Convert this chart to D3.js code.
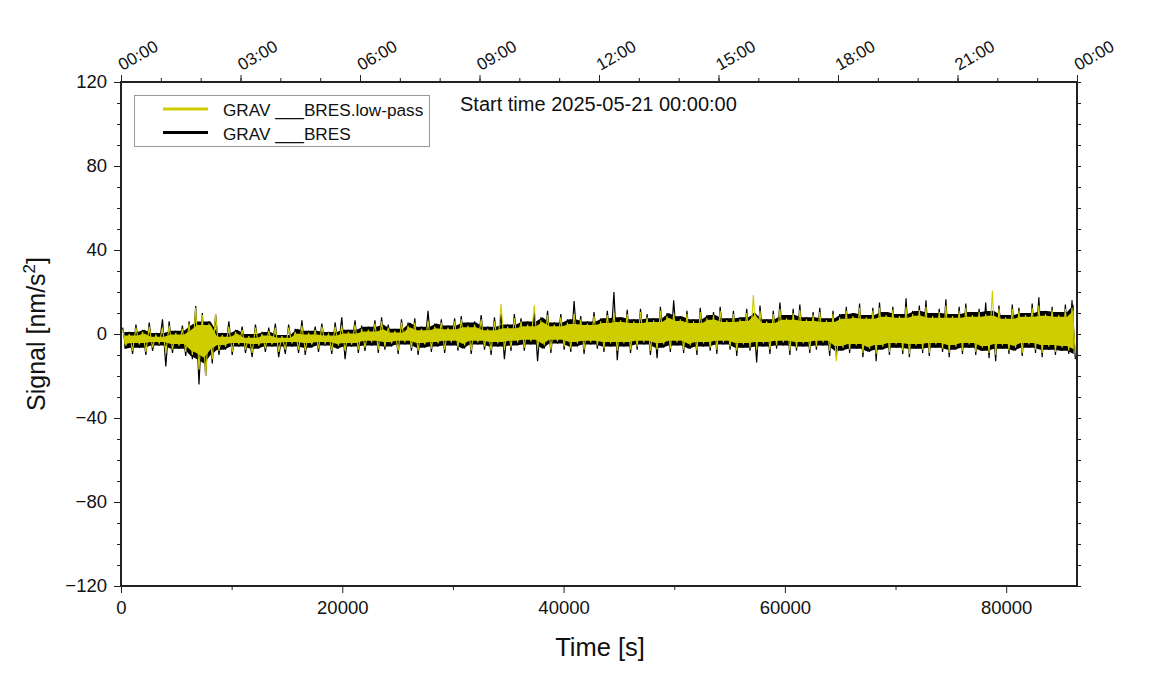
<!DOCTYPE html>
<html>
<head>
<meta charset="utf-8">
<script src="https://cdn.jsdelivr.net/npm/d3@7"></script>
<style>
  body { margin: 0; background: #fff; }
  text { font-family: "Liberation Sans", Arial, Helvetica, sans-serif; fill: #111; }
</style>
</head>
<body>
<div id="display-container"></div>
<script>
// one value pair per 600 s bin (max / min of the trace inside the bin), nm/s^2
var binSeconds = 600;
var rawHi = [3, 1, 4.5, 2, 5.5, 0.5, 7, 6, 1.5, 4,
  6, 13.3, 10, 6, 9.5,
  0.5, 6, 2, 3.5, 0, 4.5, 1, 3, 5, -0.5,
  4.5, 2.5, 6.5, 1.5, 3.5, 5, 1, 5.5, 8, 2, 6.5, 4,
  3.5, 6.5, 8, 4.5, 2.5, 7, 5.5, 7.5, 3.5, 11,
  5, 7, 4, 7.5, 8.5, 5.5, 6, 9, 3.5, 8, 9.5, 4.5, 9.5,
  7.5, 6, 10, 8, 11, 5.5, 9.5, 7, 15.7, 8.5, 6, 10.5, 7.5, 11,
  20, 8, 11.5, 7, 12, 9.5, 7.5, 13, 10, 16, 8.5, 11, 7, 12.5, 9, 10.5, 13, 7.5,
  11, 8, 12, 10, 13.5, 7, 11, 15, 9, 12, 14, 8, 10.5, 12.5, 7.5, 11, 9.5,
  13, 10, 14.5, 9, 12.5, 15, 10.5, 13, 9.5, 17, 11, 13.5, 16, 10, 12, 16.5, 9.5,
  13, 14.5, 10.5, 12, 15, 11, 13.5, 9, 14, 12.5, 10, 14.5, 17.5, 11, 13, 10.5, 14, 16];
var rawLo = [-7, -9.5, -6.5, -10, -8, -5.5, -15.5, -9, -7, -10.5,
  -12, -24, -20, -14, -10,
  -7.5, -10, -6, -9, -11, -7, -8.5, -6, -11, -9.5,
  -6, -9, -10, -6.5, -8.5, -5.5, -9.5, -7, -12, -6, -9, -8,
  -5.5, -9, -7.5, -6, -9.5, -5, -8, -10, -6.5, -8.5,
  -6, -9, -5.5, -8, -7, -9.5, -5, -7.5, -10, -6, -12, -8, -5.5,
  -8, -5, -13, -7, -9, -4.5, -7.5, -8.5, -6, -9.5, -5, -7, -8.5, -6,
  -12.5, -6, -9, -7.5, -5, -10, -11.5, -6.5, -8.5, -5.5, -9, -7, -10, -6, -8, -9.5, -5, -7.5,
  -10.5, -6.5, -8, -13.6, -6, -9.5, -7, -5.5, -10, -8, -6, -9, -7.5, -5.5, -10.5, -11, -8,
  -9, -7, -11, -8.5, -13, -7.5, -10, -6.5, -9.5, -11, -7, -9, -10.5, -6.5, -8.5, -11, -7.5,
  -9.5, -6.5, -10, -8, -11.5, -13, -7, -9.5, -8, -10.5, -6.5, -9, -11, -7.5, -10, -8, -9.5, -12];
var lowHi = [2, 0, 3, 1, 3.5, -0.5, 3, 4, 0.5, 2.5,
  5, 12.5, 9, 5, 9.5,
  -0.5, 3.5, 1, 2, -1, 3, 0, 1.5, 3, -1,
  3, 1, 4, 0.5, 2, 3.5, 0, 3.5, 4, 1, 4.5, 2.5,
  2, 5, 6, 3, 1.5, 5.5, 4, 5.5, 2.5, 6,
  3.5, 5.5, 3, 6, 7, 4, 4.5, 7, 2.5, 6, 14.3, 3.5, 7.5,
  6, 4.5, 13.7, 6.5, 9, 4.5, 8, 5.5, 9.5, 7, 5, 8.5, 6, 9,
  10, 6.5, 9.5, 6, 10.5, 8, 6.5, 11, 8.5, 10, 7, 9.5, 6, 10.5, 7.5, 9, 11, 6.5,
  9.5, 7, 10, 18.6, 11, 6, 9.5, 12, 7.5, 10, 11.5, 7, 9, 10.5, 6.5, 9.5, 8,
  11, 8.5, 12.5, 8, 11, 12.5, 9, 11.5, 8.5, 13, 9.5, 11.5, 13, 8.5, 10.5, 13.5, 8.5,
  11, 12.5, 9, 10.5, 9.5, 20.6, 12, 8, 12, 11, 9, 12.5, 13.5, 9.5, 11.5, 9, 12, 12.5];
var lowLo = [-5.5, -8, -5, -8.5, -6.5, -4.5, -9, -7.5, -5.5, -8.5,
  -10, -17, -20, -12, -8,
  -6, -8.5, -5, -7.5, -9, -5.5, -7, -5, -8.5, -7.5,
  -4.5, -7.5, -8, -5, -7, -4.5, -8, -5.5, -8, -5, -7.5, -6.5,
  -4, -7.5, -6, -4.5, -8, -4, -6.5, -8, -5, -7,
  -4.5, -7.5, -4, -6.5, -5.5, -8, -4, -6, -8, -4.5, -7.5, -6.5, -4,
  -6.5, -3.5, -7, -5.5, -7.5, -3.5, -6, -7, -4.5, -7.5, -4, -5.5, -7, -4.5,
  -8, -4.5, -7.5, -6, -4, -8, -7.5, -5, -7, -4, -7.5, -5.5, -8, -4.5, -6.5, -7.5, -4, -6,
  -8, -5, -6.5, -7.5, -4.5, -7.5, -5.5, -4, -8, -6.5, -4.5, -7.5, -6, -4, -8, -12.9, -6.5,
  -7.5, -5.5, -9, -7, -9.5, -6, -8.5, -5, -8, -9.5, -5.5, -7.5, -9, -5, -7, -9, -6,
  -8, -5, -8.5, -6.5, -9, -10, -5.5, -8, -6.5, -9, -5, -7.5, -9, -6, -8.5, -6.5, -8, -9];

var xMajor = [0, 20000, 40000, 60000, 80000];
var xMinor = [10000, 30000, 50000, 70000];
var yMajor = [-120, -80, -40, 0, 40, 80, 120];
var hourLabels = ["00:00", "03:00", "06:00", "09:00", "12:00", "15:00", "18:00", "21:00", "00:00"];
var seriesNames = ["GRAV ___BRES.low-pass", "GRAV ___BRES"];
var startTime = "Start time 2025-05-21 00:00:00";

var width = 1151, height = 700;
var margin = {top: 82, right: 74, bottom: 114, left: 121};
var yellow = "#cdcd00";

var svg = d3.select("#display-container").append("svg")
    .attr("width", width)
    .attr("height", height);

var x = d3.scaleLinear().domain([0, 86400]).range([margin.left, width - margin.right]);
var y = d3.scaleLinear().domain([-120, 120]).range([height - margin.bottom, margin.top]);

// core band: the part of each bin that its neighbours also reach (pulled in by `inset`)
function core(hi, lo, inset){
    return hi.map(function(h, i){
        var a = Math.max(0, i - 1), b = Math.min(hi.length, i + 2);
        return {t: i * binSeconds + binSeconds / 2,
                hi: d3.min(hi.slice(a, b)) - inset,
                lo: d3.max(lo.slice(a, b)) + inset};
    });
}
// trace: bin maximum then bin minimum
function trace(hi, lo){
    var pts = [];
    hi.forEach(function(h, i){
        pts.push([i * binSeconds + binSeconds * 0.25, h]);
        pts.push([i * binSeconds + binSeconds * 0.75, lo[i]]);
    });
    return pts;
}

var area = d3.area()
    .x(function(d){ return x(d.t); })
    .y0(function(d){ return y(d.lo); })
    .y1(function(d){ return y(d.hi); });
var line = d3.line()
    .x(function(d){ return x(d[0]); })
    .y(function(d){ return y(d[1]); });

svg.append("clipPath").attr("id", "plotclip")
    .append("rect")
    .attr("x", x(0)).attr("y", y(120))
    .attr("width", x(86400) - x(0)).attr("height", y(-120) - y(120));

var plot = svg.append("g").attr("clip-path", "url(#plotclip)");

[[rawHi, rawLo, "#000", 0, 1.2], [lowHi, lowLo, yellow, 0.75, 1.1]].forEach(function(s){
    plot.append("path")
        .datum(core(s[0], s[1], s[3]))
        .attr("d", area)
        .style("fill", s[2]);
    plot.append("path")
        .datum(trace(s[0], s[1]))
        .attr("d", line)
        .style("fill", "none")
        .style("stroke", s[2])
        .style("stroke-width", s[4]);
});

// axes
function styleAxis(g){
    g.select(".domain").remove();
    g.selectAll(".tick line").style("stroke", "#222").style("stroke-width", 1);
    g.selectAll(".tick text").style("font-size", "18.5px").style("fill", "#111")
        .style("font-family", '"Liberation Sans", Arial, sans-serif');
}

var y0 = y(-120), y1 = y(120), x0 = x(0), x1 = x(86400);

svg.append("g").attr("transform", "translate(0," + y0 + ")")
    .call(d3.axisBottom(x).tickValues(xMinor).tickSize(4).tickFormat(""))
    .call(styleAxis);
svg.append("g").attr("transform", "translate(0," + y0 + ")")
    .call(d3.axisBottom(x).tickValues(xMajor).tickSize(7).tickPadding(8).tickFormat(d3.format("d")))
    .call(styleAxis);

svg.append("g").attr("transform", "translate(" + x0 + ",0)")
    .call(d3.axisLeft(y).tickValues(d3.range(-120, 121, 10)).tickSize(4).tickFormat(""))
    .call(styleAxis);
svg.append("g").attr("transform", "translate(" + x0 + ",0)")
    .call(d3.axisLeft(y).tickValues(yMajor).tickSize(7).tickPadding(7))
    .call(styleAxis);

svg.append("g").attr("transform", "translate(" + x1 + ",0)")
    .call(d3.axisRight(y).tickValues(d3.range(-120, 121, 10)).tickSize(4).tickFormat(""))
    .call(styleAxis);

svg.append("g").attr("transform", "translate(0," + y1 + ")")
    .call(d3.axisTop(x).tickValues(d3.range(0, 86401, 3600)).tickSize(4).tickFormat(""))
    .call(styleAxis);
var topAxis = svg.append("g").attr("transform", "translate(0," + y1 + ")")
    .call(d3.axisTop(x).tickValues(d3.range(0, 86401, 10800)).tickSize(7)
        .tickFormat(function(d, i){ return hourLabels[i]; }))
    .call(styleAxis);
topAxis.selectAll(".tick text")
    .style("font-size", "17px")
    .attr("text-anchor", "start")
    .attr("x", 0)
    .attr("y", 0)
    .attr("dy", 0)
    .attr("transform", "translate(1,-11) rotate(-30)");

// frame
svg.append("rect")
    .attr("x", x0).attr("y", y1)
    .attr("width", x1 - x0).attr("height", y0 - y1)
    .style("fill", "none")
    .style("stroke", "#222")
    .style("stroke-width", 2);

// axis titles
svg.append("text")
    .attr("x", 600)
    .attr("y", 656)
    .attr("text-anchor", "middle")
    .style("font-size", "25.5px")
    .text("Time [s]");

var ylab = svg.append("text")
    .attr("transform", "translate(45," + ((y0 + y1) / 2) + ") rotate(-90)")
    .attr("text-anchor", "middle")
    .style("font-size", "25px");
ylab.append("tspan").text("Signal [nm/s");
ylab.append("tspan").attr("dy", -10).style("font-size", "17px").text("2");
ylab.append("tspan").attr("dy", 10).text("]");

// legend
var legend = svg.append("g");
legend.append("rect")
    .attr("x", 134.5).attr("y", 95.5)
    .attr("width", 295).attr("height", 51)
    .style("fill", "#fff")
    .style("stroke", "#999")
    .style("stroke-width", 1);
var legendColors = [yellow, "#000"];
seriesNames.forEach(function(name, i){
    var ly = 109 + i * 23.5;
    legend.append("line")
        .attr("x1", 163).attr("x2", 208)
        .attr("y1", ly).attr("y2", ly)
        .style("stroke", legendColors[i])
        .style("stroke-width", 3);
    legend.append("text")
        .attr("x", 223).attr("y", ly + 7)
        .style("font-size", "17.2px")
        .text(name);
});

svg.append("text")
    .attr("x", 460).attr("y", 111)
    .style("font-size", "20px")
    .text(startTime);
</script>
</body>
</html>
